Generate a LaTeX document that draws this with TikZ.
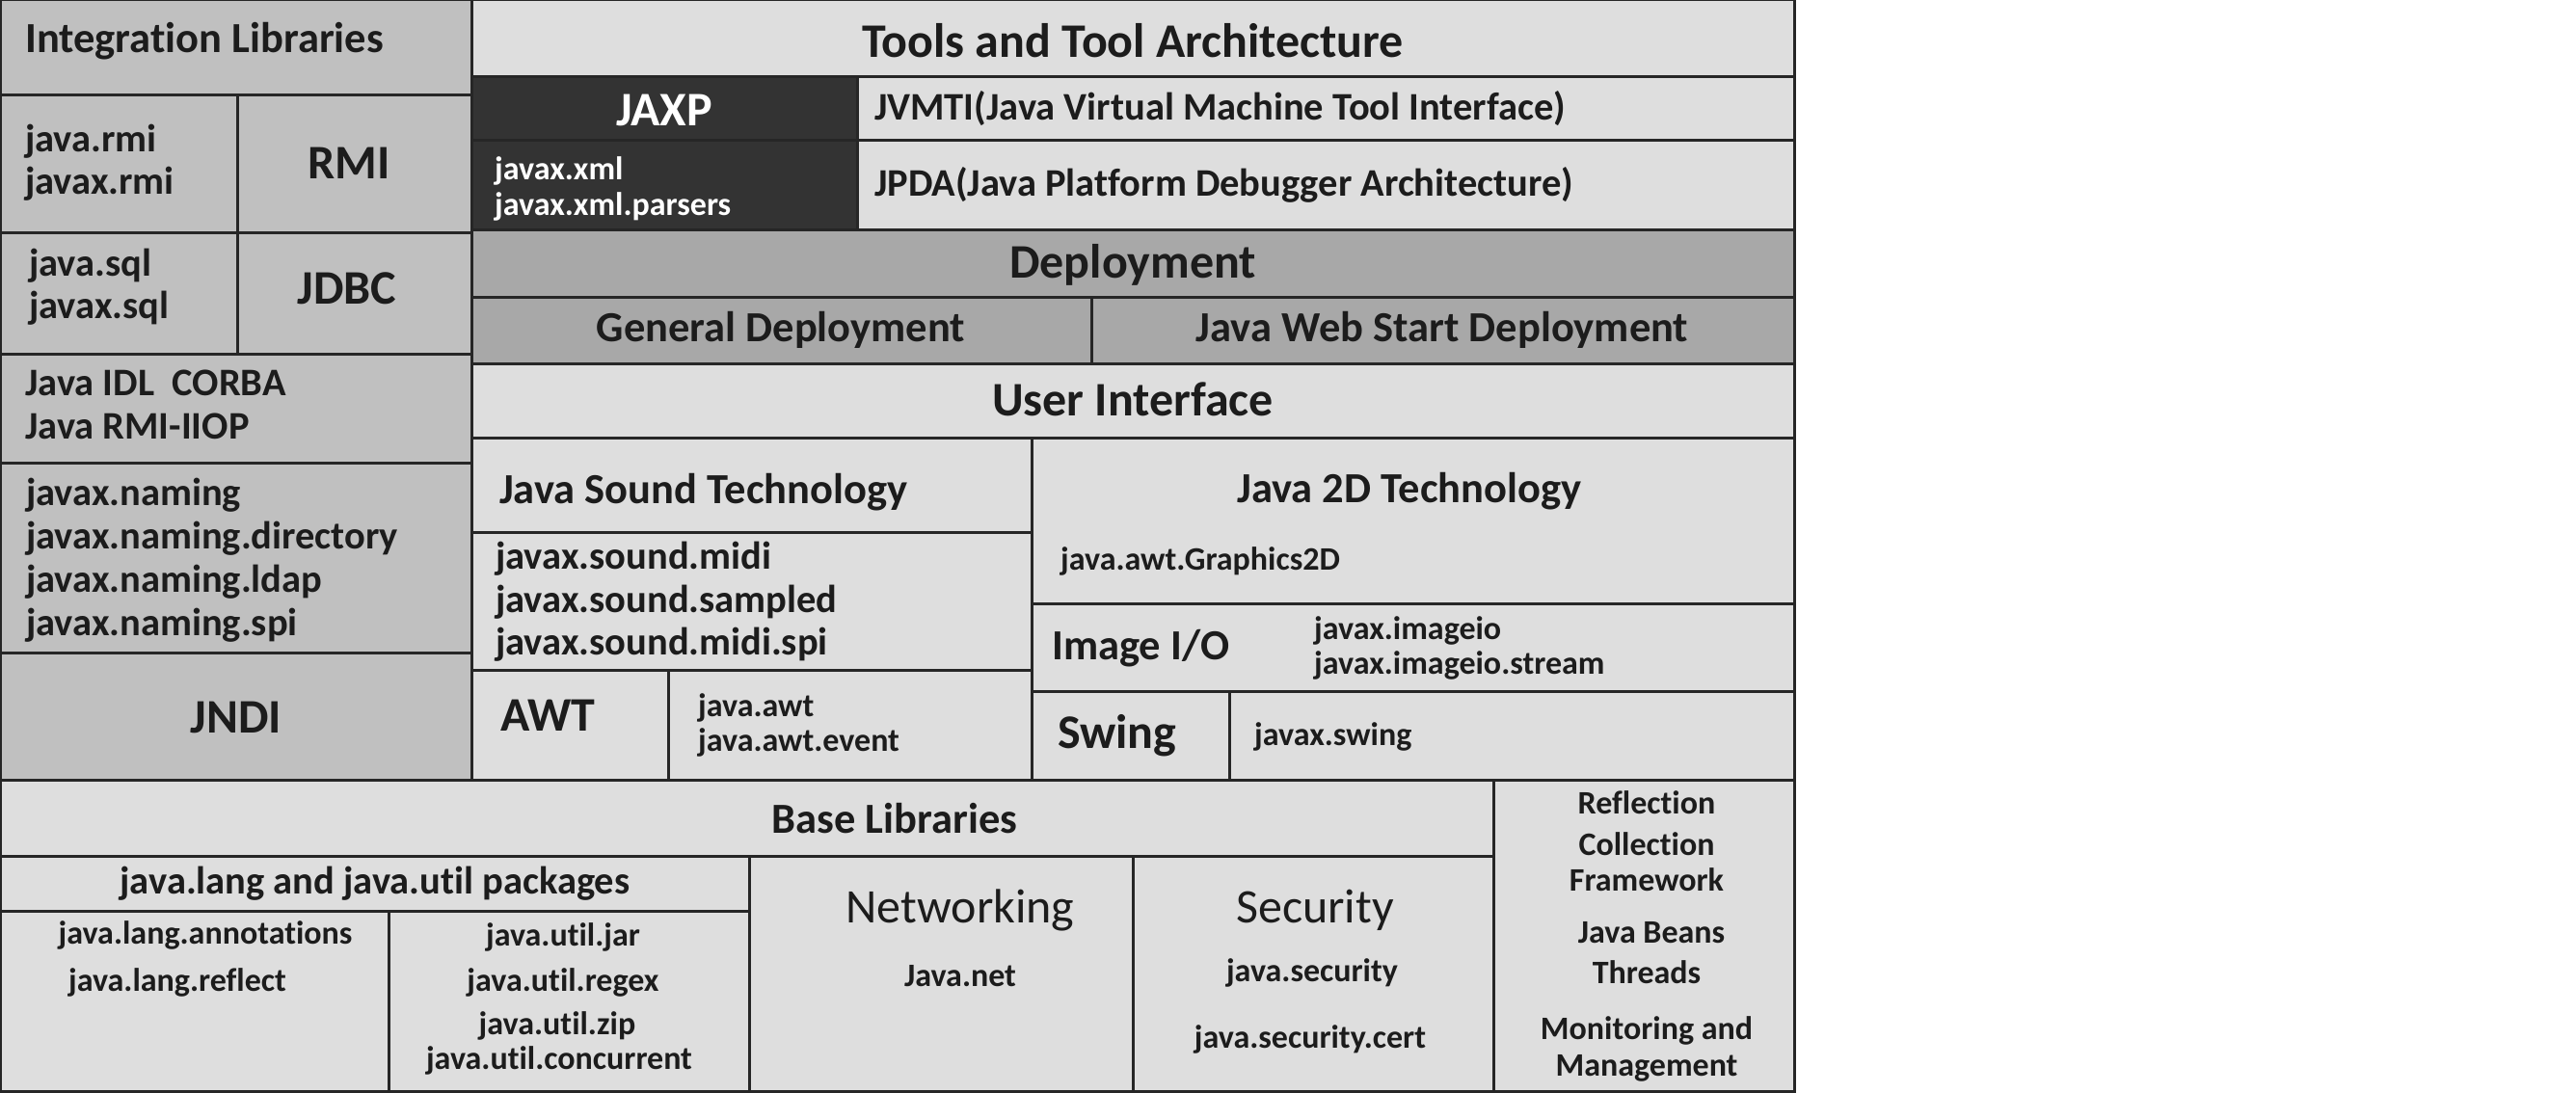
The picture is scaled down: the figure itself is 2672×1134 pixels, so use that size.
\documentclass[tikz,border=0pt]{standalone}
\usepackage{fontspec}
\setmainfont{Carlito}[Ligatures=CommonOff]
\definecolor{lc}{HTML}{C0C0C0}
\definecolor{lt}{HTML}{DEDEDE}
\definecolor{dp}{HTML}{A8A8A8}
\definecolor{dk}{HTML}{333333}
\definecolor{ln}{HTML}{262626}
\definecolor{tx}{HTML}{1C1C1C}
\tikzset{
  cell/.style={draw=ln, line width=3pt, anchor=north west, inner sep=0pt, outer sep=0pt},
  tA/.style={font=\fontsize{50}{60}\selectfont\bfseries, text=tx, inner sep=0pt, yshift=-3pt},
  tB/.style={font=\fontsize{44.5}{54}\selectfont\bfseries, text=tx, inner sep=0pt, yshift=-2pt},
  tC/.style={font=\fontsize{40.5}{50}\selectfont\bfseries, text=tx, inner sep=0pt, yshift=-2pt},
  tD/.style={font=\fontsize{34}{42}\selectfont\bfseries, text=tx, inner sep=0pt, yshift=-1.5pt},
  tR/.style={font=\fontsize{50}{60}\selectfont, text=tx, inner sep=0pt, yshift=-2pt},
  wt/.style={text=white}
}
\begin{document}
\begin{tikzpicture}[x=1pt,y=-1pt]
\useasboundingbox[fill=white] (0,0) rectangle (2672,1134);
% left column
\node[cell,fill=lc,minimum width=489pt,minimum height=99pt] (intlib) at (0,0) {};
\node[cell,fill=lc,minimum width=246pt,minimum height=143pt] (rmipk) at (0,99) {};
\node[cell,fill=lc,minimum width=243pt,minimum height=143pt] (rmi) at (246,99) {};
\node[cell,fill=lc,minimum width=246pt,minimum height=125pt] (sqlpk) at (0,242) {};
\node[cell,fill=lc,minimum width=243pt,minimum height=125pt] (jdbc) at (246,242) {};
\node[cell,fill=lc,minimum width=489pt,minimum height=113pt] (idl) at (0,367) {};
\node[cell,fill=lc,minimum width=489pt,minimum height=197pt] (naming) at (0,480) {};
\node[cell,fill=lc,minimum width=489pt,minimum height=132pt] (jndi) at (0,677) {};
% right upper
\node[cell,fill=lt,minimum width=1372pt,minimum height=80pt] (tools) at (489,0) {};
\node[cell,fill=dk,minimum width=400pt,minimum height=66pt] (jaxp) at (489,80) {};
\node[cell,fill=lt,minimum width=972pt,minimum height=66pt] (jvmti) at (889,80) {};
\node[cell,fill=dk,minimum width=400pt,minimum height=93pt] (jaxppk) at (489,146) {};
\node[cell,fill=lt,minimum width=972pt,minimum height=93pt] (jpda) at (889,146) {};
\node[cell,fill=dp,minimum width=1372pt,minimum height=69pt] (deploy) at (489,239) {};
\node[cell,fill=dp,minimum width=643pt,minimum height=69pt] (gendep) at (489,308) {};
\node[cell,fill=dp,minimum width=729pt,minimum height=69pt] (jws) at (1132,308) {};
\node[cell,fill=lt,minimum width=1372pt,minimum height=77pt] (ui) at (489,377) {};
\node[cell,fill=lt,minimum width=581pt,minimum height=98pt] (sound) at (489,454) {};
\node[cell,fill=lt,minimum width=581pt,minimum height=143pt] (soundpk) at (489,552) {};
\node[cell,fill=lt,minimum width=204pt,minimum height=114pt] (awt) at (489,695) {};
\node[cell,fill=lt,minimum width=377pt,minimum height=114pt] (awtpk) at (693,695) {};
\node[cell,fill=lt,minimum width=791pt,minimum height=172pt] (j2d) at (1070,454) {};
\node[cell,fill=lt,minimum width=791pt,minimum height=91pt] (imgio) at (1070,626) {};
\node[cell,fill=lt,minimum width=205pt,minimum height=92pt] (swing) at (1070,717) {};
\node[cell,fill=lt,minimum width=586pt,minimum height=92pt] (swingpk) at (1275,717) {};
% bottom
\node[cell,fill=lt,minimum width=1549pt,minimum height=79pt] (base) at (0,809) {};
\node[cell,fill=lt,minimum width=777pt,minimum height=57pt] (langutil) at (0,888) {};
\node[cell,fill=lt,minimum width=403pt,minimum height=187pt] (langpk) at (0,945) {};
\node[cell,fill=lt,minimum width=374pt,minimum height=187pt] (utilpk) at (403,945) {};
\node[cell,fill=lt,minimum width=398pt,minimum height=244pt] (net) at (777,888) {};
\node[cell,fill=lt,minimum width=374pt,minimum height=244pt] (sec) at (1175,888) {};
\node[cell,fill=lt,minimum width=312pt,minimum height=323pt] (misc) at (1549,809) {};
% texts: left column
\node[tB,anchor=base west] (t1) at (26,53) {Integration Libraries};
\node[tC,anchor=base west] (t2) at (26,156) {java.rmi};
\node[tC,anchor=base west] (t3) at (26,200) {javax.rmi};
\node[tA,anchor=base] (t4) at (362,183) {RMI};
\node[tC,anchor=base west] (t5) at (30,284) {java.sql};
\node[tC,anchor=base west] (t6) at (30,328) {javax.sql};
\node[tA,anchor=base] (t7) at (360,312) {JDBC};
\node[tC,anchor=base west] (t8) at (26,408) {Java IDL\ \ CORBA};
\node[tC,anchor=base west] (t9) at (26,453) {Java RMI-IIOP};
\node[tC,anchor=base west] (t10) at (27,522) {javax.naming};
\node[tC,anchor=base west] (t11) at (27,567) {javax.naming.directory};
\node[tC,anchor=base west] (t12) at (27,612) {javax.naming.ldap};
\node[tC,anchor=base west] (t13) at (27,657) {javax.naming.spi};
\node[tA,anchor=base] (t14) at (245,757) {JNDI};
% upper right
\node[tA,anchor=base] (t15) at (1175,57) {Tools and Tool Architecture};
\node[tA,wt,anchor=base] (t16) at (689,128) {JAXP};
\node[tC,anchor=base west] (t17) at (907,123) {JVMTI(Java Virtual Machine Tool Interface)};
\node[tD,wt,anchor=base west] (t18) at (513,185) {javax.xml};
\node[tD,wt,anchor=base west] (t19) at (513,222) {javax.xml.parsers};
\node[tC,anchor=base west] (t20) at (907,202) {JPDA(Java Platform Debugger Architecture)};
\node[tA,anchor=base] (t21) at (1175,285) {Deployment};
\node[tB,anchor=base] (t22) at (810,352) {General Deployment};
\node[tB,anchor=base] (t23) at (1496,352) {Java Web Start Deployment};
\node[tA,anchor=base] (t24) at (1175,428) {User Interface};
\node[tB,anchor=base west] (t25) at (518,520) {Java Sound Technology};
\node[tC,anchor=base west] (t26) at (514,588) {javax.sound.midi};
\node[tC,anchor=base west] (t27) at (514,633) {javax.sound.sampled};
\node[tC,anchor=base west] (t28) at (514,677) {javax.sound.midi.spi};
\node[tA,anchor=base west] (t29) at (519,755) {AWT};
\node[tD,anchor=base west] (t30) at (724,742) {java.awt};
\node[tD,anchor=base west] (t31) at (724,778) {java.awt.event};
\node[tB,anchor=base] (t32) at (1462,519) {Java 2D Technology};
\node[tD,anchor=base west] (t33) at (1100,590) {java.awt.Graphics2D};
\node[tB,anchor=base west] (t34) at (1091,682) {Image I/O};
\node[tD,anchor=base west] (t35) at (1363,662) {javax.imageio};
\node[tD,anchor=base west] (t36) at (1363,698) {javax.imageio.stream};
\node[tA,anchor=base west] (t37) at (1097,773) {Swing};
\node[tD,anchor=base west] (t38) at (1301,772) {javax.swing};
% bottom
\node[tB,anchor=base] (t39) at (928,862) {Base Libraries};
\node[tC,anchor=base] (t40) at (389,925) {java.lang and java.util packages};
\node[tD,anchor=base] (t41) at (213,978) {java.lang.annotations};
\node[tD,anchor=base] (t42) at (184,1027) {java.lang.reflect};
\node[tD,anchor=base] (t43) at (584,980) {java.util.jar};
\node[tD,anchor=base] (t44) at (584,1027) {java.util.regex};
\node[tD,anchor=base] (t45) at (578,1072) {java.util.zip};
\node[tD,anchor=base] (t46) at (580,1108) {java.util.concurrent};
\node[tR,anchor=base] (t47) at (996,955) {Networking};
\node[tD,anchor=base] (t48) at (996,1022) {Java.net};
\node[tR,anchor=base] (t49) at (1364,955) {Security};
\node[tD,anchor=base] (t50) at (1361,1017) {java.security};
\node[tD,anchor=base] (t51) at (1359,1086) {java.security.cert};
\node[tD,anchor=base] (t52) at (1708,843) {Reflection};
\node[tD,anchor=base] (t53) at (1708,886) {Collection};
\node[tD,anchor=base] (t54) at (1708,923) {Framework};
\node[tD,anchor=base] (t55) at (1713,977) {Java Beans};
\node[tD,anchor=base] (t56) at (1708,1019) {Threads};
\node[tD,anchor=base] (t57) at (1708,1077) {Monitoring and};
\node[tD,anchor=base] (t58) at (1708,1115) {Management};
\end{tikzpicture}
\end{document}
